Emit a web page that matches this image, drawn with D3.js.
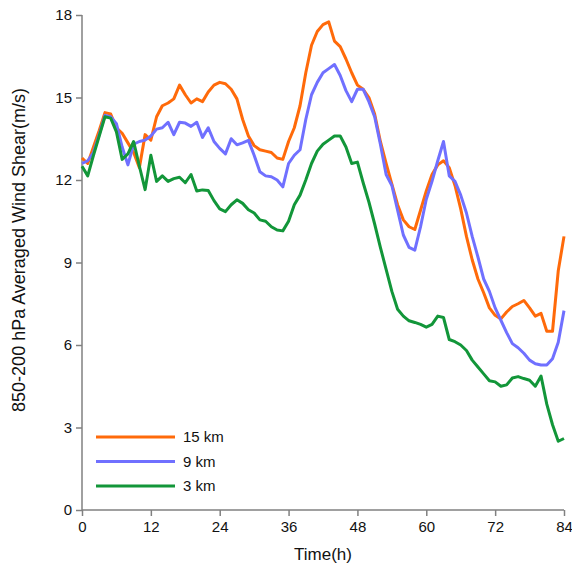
<!DOCTYPE html>
<html>
<head>
<meta charset="utf-8">
<script src="https://cdn.jsdelivr.net/npm/d3@7"></script>
<style>
  body { margin: 0; background: #fff; }
  text { font-family: "Liberation Sans", Arial, sans-serif; }
</style>
</head>
<body>
<script>
var width = 572, height = 572;
var margin = {top: 15, right: 8, bottom: 62, left: 82};

// hourly time steps
var hours = d3.range(0, 85);

var shear15 = [12.8, 12.6, 13.2, 13.8, 14.45, 14.4, 13.9, 13.7, 13.35, 13.0,
  12.45, 13.65, 13.45, 14.3, 14.7, 14.8, 14.95, 15.45, 15.1, 14.8,
  14.95, 14.85, 15.2, 15.45, 15.55, 15.5, 15.3, 14.95, 14.2, 13.6,
  13.25, 13.1, 13.05, 13.0, 12.8, 12.75, 13.4, 13.9, 14.7, 15.9,
  16.9, 17.4, 17.65, 17.75, 17.05, 16.85, 16.4, 15.9, 15.45, 15.3,
  15.0, 14.4, 13.4, 12.6, 11.85, 11.1, 10.55, 10.3, 10.2, 10.9,
  11.6, 12.2, 12.55, 12.7, 12.45, 11.8, 10.95, 9.95, 9.1, 8.4,
  7.9, 7.35, 7.08, 6.95, 7.2, 7.4, 7.5, 7.62, 7.35, 7.05,
  7.15, 6.5, 6.5, 8.7, 9.95];

var shear9 = [12.6, 12.7, 13.0, 13.65, 14.35, 14.3, 14.05, 13.2, 12.55, 13.3,
  13.4, 13.45, 13.6, 13.85, 13.9, 14.1, 13.65, 14.1, 14.07, 13.95,
  14.1, 13.55, 13.9, 13.4, 13.15, 12.95, 13.5, 13.28, 13.35, 13.44,
  12.9, 12.3, 12.15, 12.12, 12.0, 11.75, 12.6, 12.9, 13.1, 14.2,
  15.1, 15.55, 15.9, 16.05, 16.2, 15.8, 15.25, 14.85, 15.3, 15.3,
  14.85, 14.3, 13.3, 12.2, 11.8, 10.9, 10.0, 9.55, 9.45, 10.3,
  11.3, 11.95, 12.7, 13.4, 12.15, 11.95, 11.45, 10.8, 9.95, 9.2,
  8.4, 7.95, 7.35, 6.9, 6.45, 6.05, 5.9, 5.7, 5.45, 5.32,
  5.27, 5.27, 5.5, 6.1, 7.25];

var shear3 = [12.5, 12.15, 12.9, 13.6, 14.3, 14.25, 13.75, 12.75, 12.95, 13.4,
  12.5, 11.65, 12.9, 11.95, 12.15, 11.95, 12.05, 12.1, 11.9, 12.2,
  11.6, 11.64, 11.62, 11.25, 10.95, 10.85, 11.1, 11.28, 11.15, 10.92,
  10.8, 10.55, 10.5, 10.3, 10.18, 10.15, 10.5, 11.1, 11.45, 12.0,
  12.6, 13.05, 13.3, 13.45, 13.6, 13.6, 13.2, 12.6, 12.65, 11.9,
  11.2, 10.4, 9.55, 8.75, 7.95, 7.3, 7.05, 6.88, 6.82, 6.75,
  6.65, 6.75, 7.05, 7.0, 6.2, 6.12, 6.0, 5.8, 5.45, 5.2,
  4.95, 4.7, 4.66, 4.5, 4.55, 4.8, 4.85, 4.78, 4.72, 4.5,
  4.87, 3.85, 3.1, 2.5, 2.6];

var seriesNames = ["15 km", "9 km", "3 km"];
var seriesColors = ["#ff6a0a", "#7070ff", "#129639"];
var xTicks = [0, 12, 24, 36, 48, 60, 72, 84];
var yTicks = [0, 3, 6, 9, 12, 15, 18];

var series = [shear15, shear9, shear3].map(function(vals, i) {
  return {name: seriesNames[i], color: seriesColors[i],
          values: vals.map(function(v, j) { return {t: hours[j], v: v}; })};
});

var svg = d3.select("body").append("svg")
    .attr("width", width)
    .attr("height", height);

var x = d3.scaleLinear().domain([0, 84]).range([margin.left, width - margin.right]);
var y = d3.scaleLinear().domain([0, 18]).range([height - margin.bottom, margin.top]);

// axes
var xAxis = svg.append("g")
    .attr("transform", "translate(0," + y(0) + ")")
    .call(d3.axisBottom(x).tickValues(xTicks).tickSize(6).tickPadding(5));
var yAxis = svg.append("g")
    .attr("transform", "translate(" + x(0) + ",0)")
    .call(d3.axisLeft(y).tickValues(yTicks).tickSize(6).tickPadding(4));

[xAxis, yAxis].forEach(function(a) {
  a.select(".domain").attr("stroke", "#808080").attr("stroke-width", 1.5);
  a.selectAll(".tick line").attr("stroke", "#808080").attr("stroke-width", 1.5);
  a.selectAll(".tick text").attr("fill", "#111").style("font-size", "15px");
});
xAxis.select(".domain").attr("d", "M" + x(0) + ",0H" + x(84));
yAxis.select(".domain").attr("d", "M0," + y(0) + "V" + y(18));

// lines
var line = d3.line()
    .x(function(d) { return x(d.t); })
    .y(function(d) { return y(d.v); });

svg.append("g")
  .selectAll("path")
  .data(series)
  .enter().append("path")
    .attr("fill", "none")
    .attr("stroke", function(d) { return d.color; })
    .attr("stroke-width", 3)
    .attr("stroke-linejoin", "round")
    .attr("d", function(d) { return line(d.values); });

// legend
var legend = svg.append("g")
  .selectAll("g")
  .data(series)
  .enter().append("g")
    .attr("transform", function(d, i) { return "translate(96," + (437 + i * 24.5) + ")"; });

legend.append("line")
    .attr("x1", 0).attr("x2", 79)
    .attr("stroke", function(d) { return d.color; })
    .attr("stroke-width", 3);

legend.append("text")
    .attr("x", 87).attr("dy", "0.35em")
    .style("font-size", "15px")
    .attr("fill", "#111")
    .text(function(d) { return d.name; });

// axis titles
svg.append("text")
    .attr("x", (x(0) + x(84)) / 2)
    .attr("y", 560)
    .attr("text-anchor", "middle")
    .style("font-size", "17px")
    .attr("fill", "#111")
    .text("Time(h)");

svg.append("text")
    .attr("transform", "translate(25,250) rotate(-90)")
    .attr("text-anchor", "middle")
    .style("font-size", "18px")
    .attr("fill", "#111")
    .text("850-200 hPa Averaged Wind Shear(m/s)");
</script>
</body>
</html>
